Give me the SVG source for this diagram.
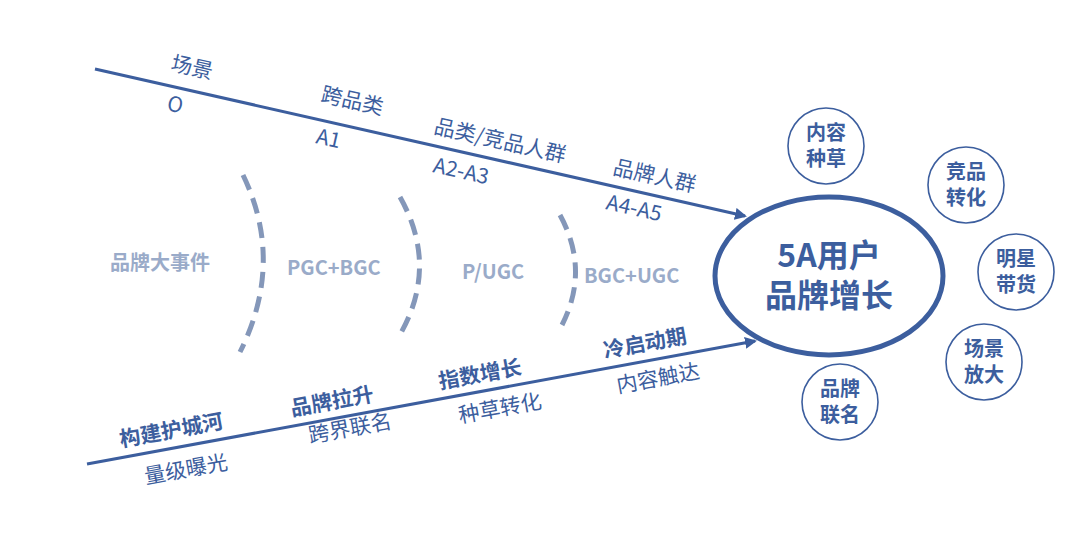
<svg xmlns="http://www.w3.org/2000/svg" width="1080" height="546" viewBox="0 0 1080 546">
<style>
text{font-family:"Noto Sans CJK SC","Liberation Sans",sans-serif;fill:#3c5e9e}
.t{font-size:21px}
.b{font-weight:bold}
.lbl{font-size:20px;fill:#9aabc9;font-weight:bold}
.c{fill:#fff;stroke:#3c5e9e;stroke-width:1.6}
.ct{font-size:20px;text-anchor:middle;font-weight:bold}
.arc{fill:none;stroke:#8497b9;stroke-width:5;stroke-dasharray:16 9}
</style>
<defs><marker id="ah" markerWidth="12" markerHeight="12" refX="10" refY="6" orient="auto" markerUnits="userSpaceOnUse"><path d="M0,0 L12,6 L0,12 Z" fill="#3c5e9e"/></marker></defs>
<rect width="1080" height="546" fill="#fff"/>
<g id="connectors">
<line x1="95" y1="69" x2="745" y2="216" stroke="#3c5e9e" stroke-width="3" marker-end="url(#ah)"/>
<line x1="87" y1="464" x2="755" y2="341" stroke="#3c5e9e" stroke-width="3" marker-end="url(#ah)"/>
<path class="arc" d="M243,175 Q285,262 240,352"/>
<path class="arc" d="M400,197 Q440,268 398,338"/>
<path class="arc" d="M560,215 Q590,270 562,325"/>
</g>
<g id="top-labels">
<text class="t" transform="translate(170,70) rotate(12.7)">场景</text>
<text class="t" transform="translate(166,110) rotate(12.7)">O</text>
<text class="t" transform="translate(320,101) rotate(12.7)">跨品类</text>
<text class="t" transform="translate(315,143) rotate(12.7)">A1</text>
<text class="t" transform="translate(433,133) rotate(12.7)">品类/竞品人群</text>
<text class="t" transform="translate(432,172) rotate(12.7)">A2-A3</text>
<text class="t" transform="translate(612,174) rotate(12.7)">品牌人群</text>
<text class="t" transform="translate(605,209) rotate(12.7)">A4-A5</text>
</g>
<g id="bottom-labels">
<text class="t b" transform="translate(121,447) rotate(-10.4)">构建护城河</text>
<text class="t" transform="translate(146,484) rotate(-10.4)">量级曝光</text>
<text class="t b" transform="translate(292,416) rotate(-10.4)">品牌拉升</text>
<text class="t" transform="translate(310,443) rotate(-10.4)">跨界联名</text>
<text class="t b" transform="translate(440,389) rotate(-10.4)">指数增长</text>
<text class="t" transform="translate(460,423) rotate(-10.4)">种草转化</text>
<text class="t b" transform="translate(605,358) rotate(-10.4)">冷启动期</text>
<text class="t" transform="translate(618,393) rotate(-10.4)">内容触达</text>
</g>
<g id="mid-labels">
<text class="lbl" x="110" y="270">品牌大事件</text>
<text class="lbl" x="287" y="275">PGC+BGC</text>
<text class="lbl" x="462" y="279">P/UGC</text>
<text class="lbl" x="584" y="283">BGC+UGC</text>
</g>
<g id="core">
<ellipse cx="829" cy="276" rx="114" ry="79" fill="#fff" stroke="#3c5e9e" stroke-width="5"/>
<text x="829" y="267" font-size="32" font-weight="bold" text-anchor="middle">5A用户</text>
<text x="829" y="307" font-size="32" font-weight="bold" text-anchor="middle">品牌增长</text>
</g>
<g id="n1"><circle class="c" cx="826" cy="146" r="38"/><text class="ct" x="826" y="140">内容</text><text class="ct" x="826" y="166">种草</text></g>
<g id="n2"><circle class="c" cx="966" cy="185" r="38"/><text class="ct" x="966" y="179">竞品</text><text class="ct" x="966" y="205">转化</text></g>
<g id="n3"><circle class="c" cx="1016" cy="272" r="38"/><text class="ct" x="1016" y="266">明星</text><text class="ct" x="1016" y="292">带货</text></g>
<g id="n4"><circle class="c" cx="984" cy="362" r="38"/><text class="ct" x="984" y="356">场景</text><text class="ct" x="984" y="382">放大</text></g>
<g id="n5"><circle class="c" cx="840" cy="402" r="38"/><text class="ct" x="840" y="396">品牌</text><text class="ct" x="840" y="422">联名</text></g>
</svg>
